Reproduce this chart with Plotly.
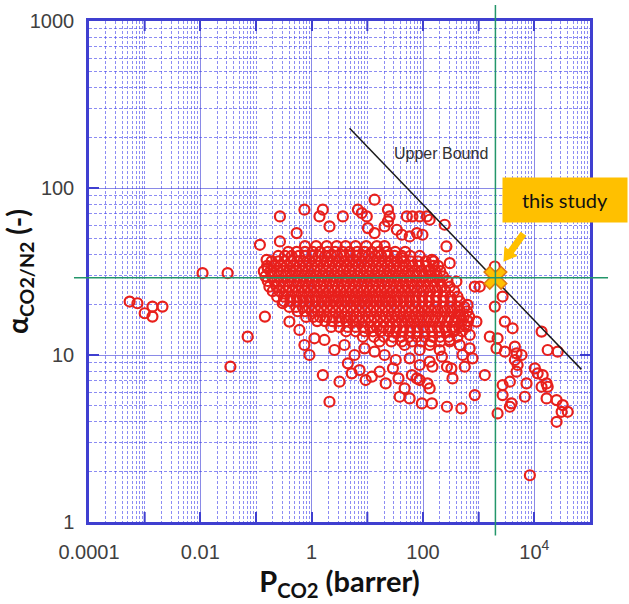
import numpy as np
import plotly.graph_objects as go

# ---- membrane data (log10 of CO2 permeability in barrer, log10 of CO2/N2 selectivity) ----
# dense central cluster: one selectivity level per row, permeabilities along that row
cluster_log_alpha = [1.652, 1.618, 1.593, 1.561, 1.534, 1.502, 1.471, 1.443, 1.409, 1.382,
                     1.349, 1.322, 1.288, 1.262, 1.228, 1.203, 1.168, 1.142, 1.109, 1.081]
cluster_log_perm = [
    [-0.12, 0.08, 0.27, 0.45, 0.61, 0.79, 0.98, 1.17, 1.31],
    [-0.42, -0.27, -0.12, 0.02, 0.15, 0.29, 0.42, 0.55, 0.68, 0.82, 0.95, 1.08, 1.21, 1.35, 1.5, 1.68],
    [-0.6, -0.48, -0.36, -0.23, -0.11, 0.01, 0.12, 0.24, 0.35, 0.46, 0.58, 0.69, 0.8, 0.91, 1.02,
     1.14, 1.25, 1.37, 1.49, 1.62, 1.77, 1.94],
    [-0.72, -0.6, -0.49, -0.37, -0.26, -0.15, -0.04, 0.07, 0.17, 0.28, 0.38, 0.49, 0.59, 0.69, 0.8,
     0.9, 1.01, 1.11, 1.21, 1.32, 1.43, 1.54, 1.66, 1.78, 1.91, 2.05, 2.19],
    [-0.8, -0.68, -0.56, -0.45, -0.33, -0.22, -0.11, 0.0, 0.1, 0.21, 0.31, 0.42, 0.52, 0.62, 0.73,
     0.83, 0.94, 1.04, 1.15, 1.25, 1.36, 1.47, 1.58, 1.69, 1.81, 1.93, 2.06, 2.19, 2.27],
    [-0.86, -0.74, -0.62, -0.51, -0.39, -0.28, -0.17, -0.06, 0.05, 0.15, 0.26, 0.36, 0.47, 0.57,
     0.68, 0.78, 0.88, 0.99, 1.09, 1.2, 1.3, 1.41, 1.52, 1.63, 1.74, 1.86, 1.98, 2.1, 2.22, 2.31],
    [-0.83, -0.71, -0.59, -0.47, -0.36, -0.25, -0.14, -0.03, 0.08, 0.19, 0.29, 0.4, 0.5, 0.61, 0.71,
     0.82, 0.92, 1.02, 1.13, 1.23, 1.34, 1.44, 1.55, 1.66, 1.77, 1.89, 2.01, 2.13, 2.25, 2.36],
    [-0.79, -0.67, -0.55, -0.43, -0.32, -0.21, -0.1, 0.01, 0.12, 0.22, 0.33, 0.43, 0.54, 0.64, 0.75,
     0.85, 0.95, 1.06, 1.16, 1.27, 1.37, 1.48, 1.59, 1.7, 1.81, 1.93, 2.05, 2.17, 2.3, 2.44],
    [-0.76, -0.63, -0.51, -0.4, -0.28, -0.17, -0.06, 0.05, 0.16, 0.26, 0.37, 0.47, 0.58, 0.68, 0.78,
     0.89, 0.99, 1.1, 1.2, 1.31, 1.41, 1.52, 1.63, 1.74, 1.85, 1.97, 2.09, 2.21, 2.34, 2.48],
    [-0.7, -0.58, -0.46, -0.35, -0.24, -0.13, -0.02, 0.09, 0.2, 0.3, 0.41, 0.51, 0.62, 0.72, 0.82,
     0.93, 1.03, 1.14, 1.24, 1.35, 1.45, 1.56, 1.67, 1.78, 1.89, 2.01, 2.13, 2.26, 2.4, 2.56],
    [-0.62, -0.5, -0.38, -0.27, -0.16, -0.05, 0.06, 0.17, 0.27, 0.38, 0.48, 0.59, 0.69, 0.79, 0.9,
     1.0, 1.11, 1.21, 1.32, 1.42, 1.53, 1.64, 1.75, 1.86, 1.98, 2.1, 2.23, 2.36, 2.49, 2.62],
    [-0.5, -0.38, -0.26, -0.15, -0.04, 0.07, 0.18, 0.28, 0.39, 0.49, 0.6, 0.7, 0.8, 0.91, 1.01,
     1.12, 1.22, 1.33, 1.43, 1.54, 1.65, 1.76, 1.87, 1.99, 2.11, 2.24, 2.37, 2.51, 2.66],
    [-0.4, -0.28, -0.16, -0.05, 0.06, 0.17, 0.28, 0.38, 0.49, 0.59, 0.7, 0.8, 0.9, 1.01, 1.11,
     1.22, 1.32, 1.43, 1.53, 1.64, 1.75, 1.86, 1.98, 2.1, 2.22, 2.35, 2.48, 2.61, 2.74],
    [-0.25, -0.12, 0.0, 0.11, 0.22, 0.33, 0.43, 0.54, 0.64, 0.75, 0.85, 0.96, 1.06, 1.16, 1.27,
     1.37, 1.48, 1.58, 1.69, 1.8, 1.91, 2.03, 2.15, 2.27, 2.4, 2.53, 2.66, 2.79],
    [-0.1, 0.03, 0.15, 0.27, 0.38, 0.49, 0.6, 0.7, 0.81, 0.91, 1.02, 1.12, 1.23, 1.33, 1.44,
     1.54, 1.65, 1.76, 1.87, 1.98, 2.1, 2.22, 2.34, 2.47, 2.6, 2.73, 2.83],
    [0.1, 0.24, 0.37, 0.5, 0.62, 0.74, 0.85, 0.96, 1.07, 1.18, 1.29, 1.4, 1.51, 1.62, 1.73,
     1.84, 1.95, 2.07, 2.19, 2.31, 2.44, 2.57, 2.7, 2.81],
    [0.35, 0.5, 0.65, 0.79, 0.92, 1.05, 1.17, 1.29, 1.41, 1.53, 1.65, 1.77, 1.89, 2.01, 2.13,
     2.26, 2.39, 2.52, 2.65, 2.78],
    [0.62, 0.79, 0.95, 1.1, 1.24, 1.38, 1.51, 1.64, 1.77, 1.9, 2.03, 2.16, 2.29, 2.42, 2.56, 2.7],
    [0.92, 1.12, 1.3, 1.46, 1.61, 1.75, 1.89, 2.03, 2.17, 2.31, 2.46, 2.62],
    [1.22, 1.43, 1.62, 1.8, 1.97, 2.14, 2.31, 2.48],
]

# individual membranes around the cluster
scatter_log_perm = [
    -3.27, -3.13, -3.0, -2.86, -2.86, -2.68, -1.96, -1.51, -1.46, -1.15,
    1.13, -0.13, 0.2, -0.57, 0.14, 0.83, 0.9, 0.99, 1.37, 1.4, 1.37, 0.56, 1.71, 1.81, 1.94,
    2.07, 2.12, 2.39, 0.32, -0.27, 1.01, 1.13, -0.93, -0.57, 1.31, 1.53, 1.62, 1.76, 1.89, 1.99,
    2.42, 2.48, 2.6, 3.02, -0.81, -0.79, -0.52, -0.84, 2.16, 2.12, 1.63,
    3.29, 2.93, 3.43, 3.29, 2.96, 3.47, 3.61, 4.13, 3.2, 3.34, 3.32, 3.47, 3.65, 3.68, 3.77,
    3.65, 3.7, 3.68, 3.56, 3.43, 3.43, 3.11, 2.93, 2.69, 2.43, 2.16, 1.98, 2.12, 2.08, 1.89,
    1.8, 2.53, 2.51, 2.75, 2.89, 2.71, 2.34, 2.43, 2.17, 2.12, 3.86, 3.83, 4.01, 4.06, 4.15,
    4.22, 4.24, 4.13, 4.22, 4.24, 4.42, 4.4, 4.51, 4.6, 4.49, 4.4, 3.34, 3.56, 3.59, 3.92, 1.94,
    0.2, 0.32, 0.5, 0.65, 0.72, 0.86, 0.97, 1.08, 1.22, 1.33, 1.46, 1.56, 1.67, 1.58, 1.51,
    1.76, 1.31, 1.13, 0.95, 0.77, 0.59, 0.41, 0.23, 0.05, -0.22, -0.4, -0.13, -0.04, 1.94, 2.12,
    2.3, 2.48, 2.66, 2.84, 1.67, 1.76, 1.94, 2.57, 2.75, 2.84, 2.66, 2.8,
]
scatter_log_alpha = [
    1.32, 1.31, 1.25, 1.23, 1.29, 1.29, 1.49, 1.49, 0.93, 1.11,
    1.93, 1.87, 1.87, 1.83, 1.83, 1.87, 1.85, 1.83, 1.87, 1.83, 1.80, 1.83, 1.83, 1.83, 1.83,
    1.83, 1.81, 1.78, 1.77, 1.73, 1.76, 1.73, 1.66, 1.68, 1.77, 1.75, 1.72, 1.71, 1.73, 1.72,
    1.65, 1.55, 1.44, 1.41, 1.57, 1.52, 1.31, 1.23, 1.57, 1.51, 1.58,
    1.53, 1.41, 1.35, 1.29, 1.20, 1.20, 1.16, 1.14, 1.11, 1.10, 1.04, 1.02, 1.05, 1.01, 1.0,
    0.97, 0.94, 0.90, 0.84, 0.82, 0.76, 0.88, 0.76, 0.68, 0.69, 0.71, 0.71, 0.80, 0.83, 0.86,
    0.88, 0.86, 0.92, 0.93, 0.98, 1.0, 0.99, 0.93, 0.93, 0.96, 0.83, 0.75, 0.92, 0.89, 0.88,
    0.83, 0.81, 0.81, 0.74, 1.03, 1.02, 0.73, 0.70, 0.66, 0.66, 0.60, 0.65, 0.69, 0.71, 0.28, 0.85,
    0.88, 0.72, 0.84, 0.95, 0.89, 0.91, 0.85, 0.87, 0.90, 0.83, 0.92, 0.86, 0.80, 0.75, 0.97,
    0.74, 1.0, 1.02, 1.04, 1.0, 1.06, 1.03, 1.09, 1.10, 1.15, 1.2, 1.06, 1.0, 1.03, 1.06,
    1.03, 1.09, 1.06, 1.04, 1.06, 0.98, 0.94, 1.15, 1.18, 1.12, 1.24, 1.30,
]

# this work and the Robeson upper bound
study_perm = 2000
study_alpha = 29
bound_perm = [4.8, 70000]
bound_alpha = [228, 8.2]

perm, alpha = [], []
for a, row in zip(cluster_log_alpha, cluster_log_perm):
    perm.extend(10.0 ** np.array(row))
    alpha.extend([10.0 ** a] * len(row))
perm.extend(10.0 ** np.array(scatter_log_perm))
alpha.extend(10.0 ** np.array(scatter_log_alpha))

# ---- styling ----
BLUE = "#3f3fd0"
GREEN = "#23966a"
ORANGE = "#FFC000"
RED = "#e8201c"

x_labelled = [1e-4, 1e-2, 1, 100, 1e4]
x_labels = ["0.0001", "0.01", "1", "100", "10<sup>4</sup>"]
x_odd_decades = [1e-3, 1e-1, 10, 1e3]
y_decades = [1, 10, 100, 1000]
y_labels = ["1", "10", "100", "1000"]
x_minor = [m * 10.0 ** k for k in range(-4, 5) for m in range(2, 10)] + x_odd_decades
y_minor = [m * 10.0 ** k for k in range(0, 3) for m in range(2, 10)]

fig = go.Figure()

fig.add_trace(go.Scatter(
    x=perm, y=alpha, mode="markers",
    marker=dict(symbol="circle-open", size=10, color=RED, line=dict(width=2.2, color=RED)),
    hoverinfo="skip",
))

fig.add_trace(go.Scatter(
    x=bound_perm, y=bound_alpha, mode="lines",
    line=dict(color="#1a1a1a", width=1.5), hoverinfo="skip",
))

fig.add_trace(go.Scatter(
    x=[study_perm], y=[study_alpha], mode="markers",
    marker=dict(symbol="x", size=20, color=ORANGE, line=dict(width=1.5, color="#e07a10")),
    hoverinfo="skip",
))

# guide lines through this work's values, running past the frame
fig.add_shape(type="line", xref="x", yref="paper", x0=study_perm, x1=study_perm,
              y0=-0.027, y1=1.032, line=dict(color=GREEN, width=1.5), layer="above")
fig.add_shape(type="line", xref="paper", yref="y", x0=-0.03, x1=1.036,
              y0=study_alpha, y1=study_alpha, line=dict(color=GREEN, width=1.5), layer="above")

# decade tick marks for the unlabelled decades (bottom and top edges)
for v in x_odd_decades:
    fig.add_shape(type="line", xref="x", yref="paper", x0=v, x1=v, y0=0, y1=0.02,
                  line=dict(color=BLUE, width=2), layer="above")
    fig.add_shape(type="line", xref="x", yref="paper", x0=v, x1=v, y0=0.98, y1=1,
                  line=dict(color=BLUE, width=2), layer="above")

# block arrow pointing down-left at this work (pixel offsets from the point, y up)
fig.add_shape(type="path", xref="x", yref="y", xsizemode="pixel", ysizemode="pixel",
              xanchor=study_perm, yanchor=study_alpha,
              path="M 30.9 42.0 L 18.4 24.6 L 22.1 21.9 L 8 16 L 9.0 31.2 L 12.7 28.6 L 25.2 46.0 Z",
              fillcolor=ORANGE, line=dict(width=0), layer="above")

axis_common = dict(
    type="log", ticks="inside", ticklen=10, tickwidth=2, tickcolor=BLUE,
    showline=True, linecolor=BLUE, linewidth=2.5, mirror="ticks",
    showgrid=True, gridcolor="rgba(60,60,215,0.6)", gridwidth=1,
    tickfont=dict(family="Liberation Sans, Arial, sans-serif", size=20, color="#404040"),
    zeroline=False, automargin=False,
)
minor_grid = dict(showgrid=True, gridcolor="rgba(70,70,235,0.62)", griddash="3px,2px",
                  gridwidth=1, ticks="")

fig.update_xaxes(
    **axis_common, range=[-4, 5], tickmode="array", tickvals=x_labelled, ticktext=x_labels,
    ticklabelstandoff=10,
    minor=dict(tickvals=x_minor, **minor_grid),
    title=dict(text="<b>P<sub>CO2</sub> (barrer)</b>", standoff=4,
               font=dict(family="Lato, sans-serif", size=29, color="#111")),
)
fig.update_yaxes(
    **axis_common, range=[0, 3], tickmode="array", tickvals=y_decades, ticktext=y_labels,
    ticklabelstandoff=8,
    minor=dict(tickvals=y_minor, **minor_grid),
    title=dict(text="<b>α<sub>CO2/N2</sub> (-)</b>", standoff=8,
               font=dict(family="Lato, sans-serif", size=28, color="#111")),
)

fig.add_annotation(x=np.log10(210), y=np.log10(162), text="Upper Bound", showarrow=False,
                   font=dict(family="Liberation Sans, Arial, sans-serif", size=16, color="#333"))

# callout box naming this work
fig.add_annotation(xref="paper", yref="paper", x=0.95, y=0.643, xanchor="center",
                   yanchor="middle", text="this study",
                   showarrow=False, bgcolor=ORANGE, width=116, height=36, borderpad=4,
                   font=dict(family="Lato, sans-serif", size=20, color="#111"))

fig.update_layout(
    width=629, height=604, margin=dict(l=89, r=39, t=21, b=82),
    plot_bgcolor="white", paper_bgcolor="white", showlegend=False,
)

fig.write_html("out.html")
